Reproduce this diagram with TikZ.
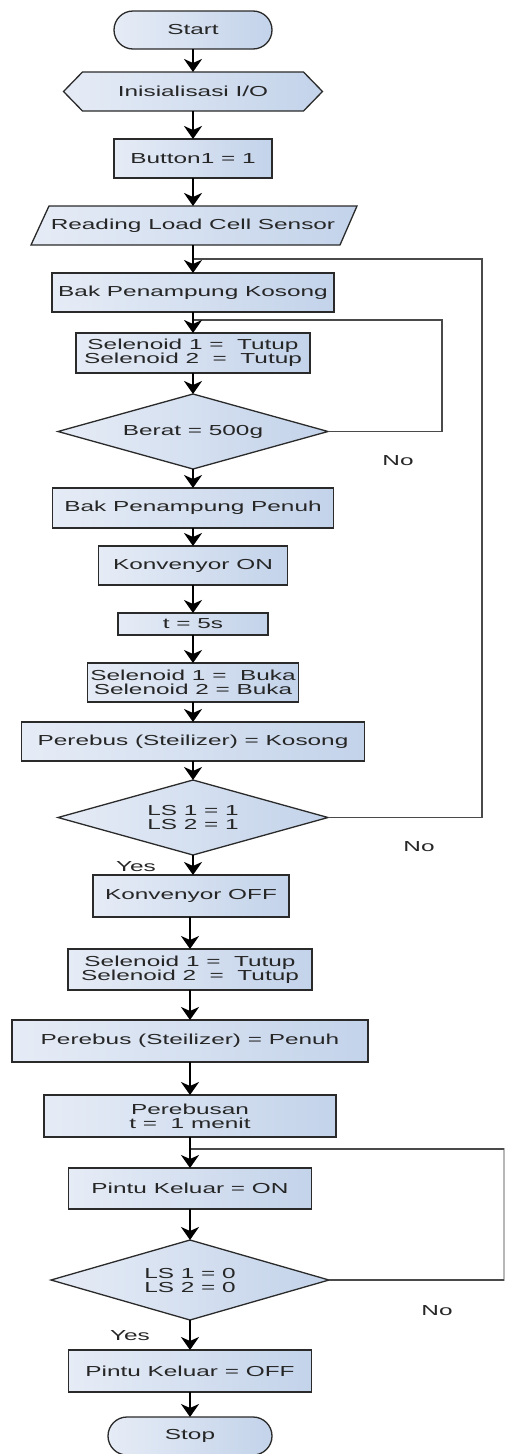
\documentclass[tikz,border=0pt]{standalone}
\usepackage{fontspec}
\newfontfamily\fc[FakeStretch=1.68]{Liberation Sans}
\usetikzlibrary{shapes.geometric,shapes.misc,arrows.meta,calc}
\definecolor{fillL}{HTML}{E6ECF6}
\definecolor{fillR}{HTML}{C3D3EA}
\definecolor{bd}{HTML}{2A2A2A}
\definecolor{tx}{HTML}{262626}
\definecolor{loopc}{HTML}{4A4A4A}
\begin{document}
\begin{tikzpicture}[x=1pt,y=-1pt,
  base/.style={inner sep=0pt, outer sep=0pt, text=tx, align=center,
    font=\fc\fontsize{14.5}{14}\selectfont},
  shadefill/.style={draw=bd, line width=1.3pt, left color=fillL, right color=fillR},
  box/.style={base, rectangle, shadefill},
  term/.style={base, rounded rectangle, shadefill},
  txt/.style={base, rectangle, draw=none},
  lbl/.style={base},
  arr/.style={draw=black, line width=2.2pt, -{Stealth[length=13pt,width=18pt,inset=4pt]}},
  back/.style={draw=loopc, line width=1.6pt}
]
\useasboundingbox (0,0) rectangle (504,1454);
\fill[white] (0,0) rectangle (504,1454);

% terminals and process boxes (upper part)
\node[term, minimum width=158pt, minimum height=38pt] (start) at (193,30) {Start};

\path[shadefill] (63.5,91.5) -- (82.5,72) -- (303.5,72) -- (322.5,91.5) -- (303.5,111) -- (82.5,111) -- cycle;
\node[txt, minimum width=259pt, minimum height=39pt] (init) at (193,91.5) {Inisialisasi I/O};

\node[box, minimum width=158pt, minimum height=39pt] (btn) at (193,158.5) {Button1 = 1};

\path[shadefill] (49,206) -- (357,206) -- (340,245) -- (31,245) -- cycle;
\node[txt, minimum width=300pt, minimum height=39pt] (read) at (193,225.5) {Reading Load Cell Sensor};

\node[box, minimum width=282pt, minimum height=39pt] (bakk) at (193,292.5) {Bak Penampung Kosong};
\node[box, minimum width=234pt, minimum height=40pt] (sel1) at (193,353) {Selenoid 1 =\ \ Tutup\\Selenoid 2\ \ =\ \ Tutup};

\path[shadefill] (58,431.5) -- (193,394) -- (328,431.5) -- (193,469) -- cycle;
\node[txt, minimum width=270pt, minimum height=75pt] (d1) at (193,431.5) {Berat = 500g};

\node[box, minimum width=281pt, minimum height=40pt] (bakp) at (193,508) {Bak Penampung Penuh};
\node[box, minimum width=189pt, minimum height=39pt] (konon) at (193,565.5) {Konvenyor ON};
\node[box, minimum width=150pt, minimum height=22pt] (t5) at (193,624) {t = 5s};
\node[box, minimum width=211pt, minimum height=39pt] (sel2) at (193,682.5) {Selenoid 1 =\ \ Buka\\Selenoid 2 = Buka};
\node[box, minimum width=343pt, minimum height=39pt] (perk) at (193,741.5) {Perebus (Steilizer) = Kosong};

\path[shadefill] (58,817.5) -- (193,780) -- (328,817.5) -- (193,855) -- cycle;
\node[txt, minimum width=270pt, minimum height=75pt] (d2) at (193,817.5) {LS 1 = 1\\LS 2 = 1};

% lower part
\node[box, minimum width=196pt, minimum height=42pt] (konoff) at (191,896) {Konvenyor OFF};
\node[box, minimum width=244pt, minimum height=41pt] (sel3) at (190,969.5) {Selenoid 1 =\ \ Tutup\\Selenoid 2\ \ =\ \ Tutup};
\node[box, minimum width=356pt, minimum height=42pt] (perp) at (190,1041) {Perebus (Steilizer) = Penuh};
\node[box, minimum width=292pt, minimum height=42pt] (rebus) at (190,1116) {Perebusan\\t =\ \ 1 menit};
\node[box, minimum width=243pt, minimum height=41pt] (pon) at (190,1188.5) {Pintu Keluar = ON};

\path[shadefill] (51,1280) -- (190,1240) -- (329,1280) -- (190,1320) -- cycle;
\node[txt, minimum width=278pt, minimum height=80pt] (d3) at (190,1280) {LS 1 = 0\\LS 2 = 0};

\node[box, minimum width=243pt, minimum height=42pt] (poff) at (190,1371) {Pintu Keluar = OFF};
\node[term, minimum width=164pt, minimum height=38pt] (stop) at (190,1436) {Stop};

% labels
\node[lbl] (no1) at (398,461) {No};
\node[lbl] (no2) at (419,847) {No};
\node[lbl] (yes2) at (136,867) {Yes};
\node[lbl] (no3) at (437,1311) {No};
\node[lbl] (yes3) at (130,1336) {Yes};

% loop coordinates
\coordinate (j1) at (193,259);
\coordinate (r1) at (482,259);
\coordinate (j2) at (193,320);
\coordinate (r2) at (442,320);
\coordinate (j3) at (190,1149);
\coordinate (r3) at (504,1149);

% feedback loops
\draw[back] (d2.east) -| (r1) -- (j1);
\draw[back] (d1.east) -| (r2) -- (j2);
\draw[back, draw=loopc!40] (d3.east) -| (r3) -- (j3);
\draw[back] (d3.east) -- (d3.east -| r3);
\draw[back] (r3) -- (j3);

% main flow
\draw[arr] (start) -- (init);
\draw[arr] (init) -- (btn);
\draw[arr] (btn) -- (read);
\draw[arr] (read) -- (bakk);
\draw[arr] (bakk) -- (sel1);
\draw[arr] (sel1) -- (d1);
\draw[arr] (d1) -- (bakp);
\draw[arr] (bakp) -- (konon);
\draw[arr] (konon) -- (t5);
\draw[arr] (t5) -- (sel2);
\draw[arr] (sel2) -- (perk);
\draw[arr] (perk) -- (d2);
\draw[arr] (d2.south) -- (d2.south |- konoff.north);
\draw[arr] (konoff.south -| sel3.north) -- (sel3.north);
\draw[arr] (sel3) -- (perp);
\draw[arr] (perp) -- (rebus);
\draw[arr] (rebus) -- (pon);
\draw[arr] (pon) -- (d3);
\draw[arr] (d3) -- (poff);
\draw[arr] (poff) -- (stop);
\end{tikzpicture}
\end{document}
